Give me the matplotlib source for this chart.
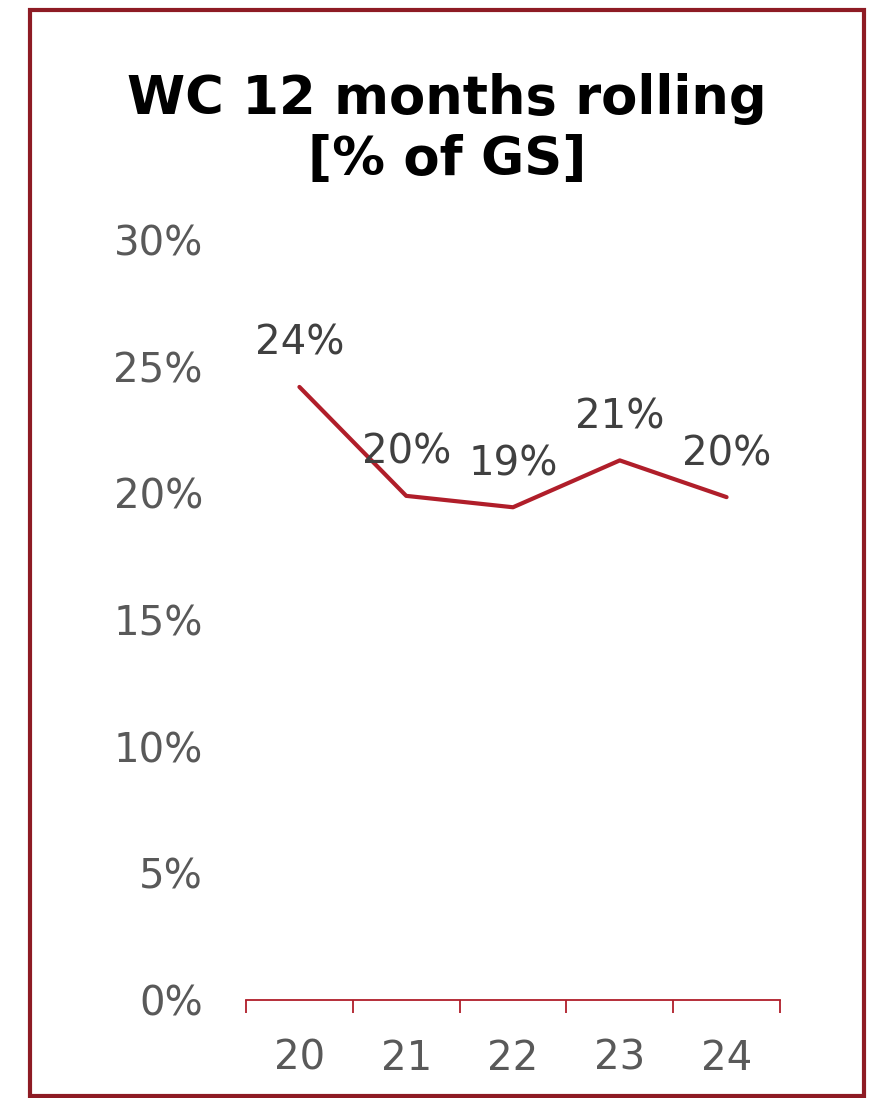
import matplotlib.pyplot as plt
from matplotlib.patches import Rectangle

years = ["20", "21", "22", "23", "24"]
wc_pct = [24.2, 19.9, 19.45, 21.3, 19.85]
point_labels = ["24%", "20%", "19%", "21%", "20%"]
y_ticks = [0, 5, 10, 15, 20, 25, 30]

line_red = "#B01E2A"
frame_red = "#8E1B24"

fig = plt.figure(figsize=(8.74, 10.98), dpi=100)
ax = fig.add_axes([0.2815, 0.0893, 0.6109, 0.6921])

x = list(range(len(years)))
ax.plot(x, wc_pct, color=line_red, lw=3, solid_capstyle="round", solid_joinstyle="round")

for xi, v, lab in zip(x, wc_pct, point_labels):
    ax.annotate(lab, (xi, v), xytext=(0, 31), textcoords="offset points",
                ha="center", va="center", fontsize=29, color="#404040")

ax.set_xlim(-0.5, len(years) - 0.5)
ax.set_ylim(0, 30)

# category labels at centres, tick marks on the boundaries
ax.set_xticks(x)
ax.set_xticklabels(years)
ax.set_xticks([i - 0.5 for i in range(len(years) + 1)], minor=True)
ax.tick_params(axis="x", which="major", length=0, pad=28, labelsize=29, labelcolor="#595959")
ax.tick_params(axis="x", which="minor", length=9.5, width=1.3, color=line_red, direction="out")

ax.set_yticks(y_ticks)
ax.set_yticklabels([f"{t}%" for t in y_ticks])
ax.tick_params(axis="y", length=0, pad=31, labelsize=29, labelcolor="#595959")

for s in ["top", "right", "left"]:
    ax.spines[s].set_visible(False)
ax.spines["bottom"].set_color(line_red)
ax.spines["bottom"].set_linewidth(1.3)

fig.text(0.5114, 0.9099, "WC 12 months rolling", ha="center", va="center",
         fontsize=38, fontweight="bold", color="black")
fig.text(0.5114, 0.8543, "[% of GS]", ha="center", va="center",
         fontsize=38, fontweight="bold", color="black")

fig.patches.append(Rectangle((0.0343, 0.0018), 0.9543, 0.9891, transform=fig.transFigure,
                             fill=False, edgecolor=frame_red, lw=3))

fig.savefig("out.png", dpi=100)
